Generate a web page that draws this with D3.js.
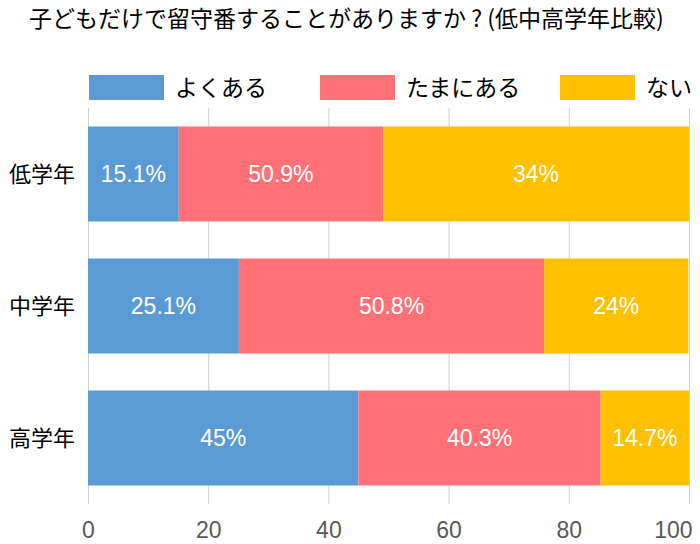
<!DOCTYPE html>
<html><head><meta charset="utf-8">
<script src="https://cdn.jsdelivr.net/npm/d3@7"></script>
<style>body{margin:0;background:#fff}svg{display:block}text{font-family:"Noto Sans CJK JP","Liberation Sans",sans-serif}</style>
</head><body>
<svg id="c" width="700" height="544"></svg>
<script>
const title = "子どもだけで留守番することがありますか ? (低中高学年比較)";
const categories = ["低学年", "中学年", "高学年"];
const seriesNames = ["よくある", "たまにある", "ない"];
const seriesColors = ["#5B9BD5", "#FF7077", "#FFC000"];
// bar lengths as drawn in the reference
const yoku = [15.1, 25.1, 45];
const tamani = [34, 50.8, 40.3];
const nai = [50.9, 24, 14.7];
// data labels as printed in the reference
const yokuLabels = ["15.1%", "25.1%", "45%"];
const tamaniLabels = ["50.9%", "50.8%", "40.3%"];
const naiLabels = ["34%", "24%", "14.7%"];
const xTicks = [0, 20, 40, 60, 80, 100];

const svg = d3.select("#c");
const x = d3.scaleLinear().domain([0, 100]).range([88, 689]);
const y = d3.scaleBand().domain(categories).range([108, 504]).paddingInner(0.28).paddingOuter(0.14);

svg.append("text").attr("x", 29).attr("y", 27).attr("font-size", 23).attr("fill", "#000")
  .style("white-space", "pre").attr("xml:space", "preserve").text(title);

// grid
svg.append("g").selectAll("line").data(xTicks).join("line")
  .attr("x1", d => x(d) + 0.5).attr("x2", d => x(d) + 0.5).attr("y1", 108).attr("y2", 504)
  .attr("stroke", "#d0d0d0").attr("stroke-width", 1);

const allLabels = [yokuLabels, tamaniLabels, naiLabels];
const rows = categories.map((c, i) => ({c, vals: [yoku[i], tamani[i], nai[i]], labs: allLabels.map(l => l[i])}));
const segs = [];
rows.forEach(r => { let acc = 0; r.vals.forEach((v, j) => { segs.push({c: r.c, s: j, x0: acc, x1: Math.min(acc + v, 100), lab: r.labs[j]}); acc += v; }); });
const g = svg.append("g");
g.selectAll("rect").data(segs).join("rect")
  .attr("x", d => x(d.x0)).attr("width", d => x(d.x1) - x(d.x0))
  .attr("y", d => y(d.c)).attr("height", y.bandwidth())
  .attr("fill", d => seriesColors[d.s]);
g.selectAll("text").data(segs).join("text")
  .attr("x", d => (x(d.x0) + x(d.x1)) / 2)
  .attr("y", d => y(d.c) + y.bandwidth() / 2 + 8)
  .attr("text-anchor", "middle")
  .attr("fill", "#fff").attr("font-size", 23)
  .style("font-family", "'Liberation Sans', Arial, sans-serif")
  .text(d => d.lab);

// category labels
svg.append("g").selectAll("text").data(categories).join("text")
  .attr("x", 75).attr("y", d => y(d) + y.bandwidth() / 2 + 8)
  .attr("text-anchor", "end").attr("font-size", 22).attr("fill", "#000").text(d => d);

// x axis
const ax = svg.append("g").attr("transform", "translate(0,504)")
  .call(d3.axisBottom(x).tickValues(xTicks).tickSize(0).tickPadding(0));
ax.select(".domain").remove();
ax.selectAll("text").attr("font-size", 23).attr("fill", "#595959").attr("dy", 0).attr("y", 34)
  .style("font-family", "'Liberation Sans', Arial, sans-serif");
ax.selectAll(".tick").filter(d => d === 100).select("text").attr("text-anchor", "end").attr("x", 3);

// legend
const legX = [89, 320, 560];
const leg = svg.append("g").selectAll("g").data(seriesNames).join("g")
  .attr("transform", (d, i) => `translate(${legX[i]},75)`);
leg.append("rect").attr("width", 75).attr("height", 25).attr("fill", (d, i) => seriesColors[i]);
leg.append("text").attr("x", 86).attr("y", 21).attr("font-size", 23).attr("fill", "#000").text(d => d);
</script>
</body></html>
